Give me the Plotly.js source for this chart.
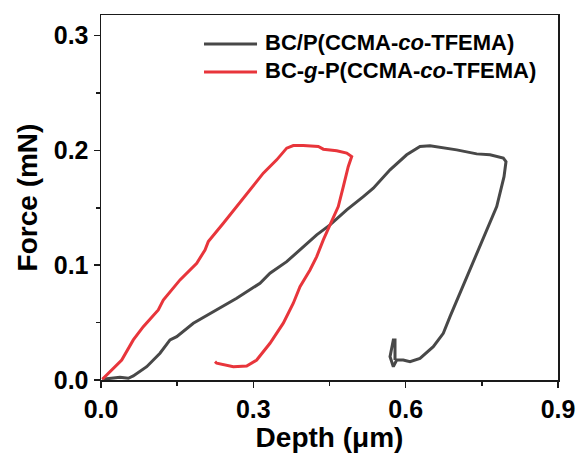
<!DOCTYPE html>
<html><head><meta charset="utf-8">
<script src="https://cdn.plot.ly/plotly-3.0.1.min.js"></script>
<style>html,body{margin:0;padding:0;background:#fff}#chart{width:578px;height:453px}</style>
</head><body><div id="chart"></div>
<script>
// BC/P(CCMA-co-TFEMA)
const depthBCP = [0.0026,0.0374,0.0538,0.0636,0.0900,0.1162,0.1359,0.1491,0.1818,0.2279,0.2672,0.3131,0.3328,0.3657,0.3919,0.4248,0.4510,0.4839,0.5166,0.5363,0.5692,0.6020,0.6282,0.6479,0.7005,0.7399,0.7661,0.7923,0.7976,0.7937,0.7793,0.7596,0.7399,0.7202,0.7005,0.6873,0.6741,0.6544,0.6282,0.6085,0.5953,0.5823,0.5757,0.5692,0.5757,0.5790,0.5790];
const forceBCP = [0.0006,0.0024,0.0015,0.0035,0.0116,0.0233,0.0349,0.0378,0.0494,0.0610,0.0712,0.0843,0.0930,0.1031,0.1133,0.1264,0.1351,0.1482,0.1598,0.1671,0.1831,0.1962,0.2034,0.2040,0.2005,0.1970,0.1962,0.1933,0.1903,0.1772,0.1511,0.1308,0.1105,0.0901,0.0697,0.0552,0.0407,0.0290,0.0189,0.0160,0.0174,0.0174,0.0116,0.0203,0.0349,0.0349,0.0174];
// BC-g-P(CCMA-co-TFEMA)
const depthBCg = [0.0026,0.0112,0.0408,0.0636,0.0833,0.1128,0.1227,0.1556,0.1885,0.2048,0.2113,0.2409,0.2673,0.2869,0.3196,0.3460,0.3657,0.3787,0.3984,0.4280,0.4378,0.4642,0.4839,0.4937,0.4870,0.4772,0.4673,0.4510,0.4378,0.4248,0.4116,0.3919,0.3787,0.3590,0.3328,0.3066,0.2869,0.2606,0.2409,0.2279,0.2245];
const forceBCg = [0.0006,0.0044,0.0174,0.0349,0.0465,0.0610,0.0697,0.0872,0.1017,0.1133,0.1206,0.1366,0.1511,0.1628,0.1802,0.1918,0.2020,0.2043,0.2043,0.2034,0.2011,0.1997,0.1977,0.1947,0.1860,0.1685,0.1511,0.1351,0.1221,0.1075,0.0959,0.0813,0.0669,0.0495,0.0320,0.0174,0.0122,0.0116,0.0131,0.0146,0.0160];
const names = ['BC/P(CCMA-<i>co</i>-TFEMA)', 'BC-<i>g</i>-P(CCMA-<i>co</i>-TFEMA)'];
const colors = ['#484848', '#e8353b'];
const xTicks = [0, 0.3, 0.6, 0.9];
const xTickText = ['0.0', '0.3', '0.6', '0.9'];
const yTicks = [0, 0.1, 0.2, 0.3];
const yTickText = ['0.0', '0.1', '0.2', '0.3'];

const F = 'Arial, "Liberation Sans", sans-serif';
const traces = [
  {x: depthBCP, y: forceBCP, name: names[0], mode: 'lines', line: {color: colors[0], width: 3}, showlegend: false},
  {x: depthBCg, y: forceBCg, name: names[1], mode: 'lines', line: {color: colors[1], width: 3}, showlegend: false}
];
// legend drawn by hand (line sample + label)
const legRows = [0.9205, 0.8438];
const shapes = [], annotations = [];
names.forEach((n, i) => {
  shapes.push({type: 'line', xref: 'paper', yref: 'paper', x0: 0.2254, x1: 0.3414, y0: legRows[i], y1: legRows[i],
               line: {color: colors[i], width: 3}});
  annotations.push({xref: 'paper', yref: 'paper', x: 0.3545, y: legRows[i] + 0.003, xanchor: 'left', yanchor: 'middle',
                    showarrow: false, text: n, font: {family: F, size: 22, color: '#000', weight: 700}});
});
const axBase = {
  showline: true, mirror: true, linecolor: '#1a1a1a', linewidth: 1.5,
  ticks: 'outside', ticklen: 6, tickwidth: 1.5, tickcolor: '#1a1a1a',
  showgrid: false, zeroline: false,
  tickfont: {family: F, size: 25, color: '#000', weight: 700},
  minor: {ticks: 'outside', ticklen: 4, tickwidth: 1.5, tickcolor: '#1a1a1a', showgrid: false}
};
const layout = {
  width: 578, height: 453,
  margin: {l: 101, r: 20, t: 15, b: 73},
  paper_bgcolor: '#fff', plot_bgcolor: '#fff',
  showlegend: false,
  shapes: shapes, annotations: annotations,
  xaxis: Object.assign({}, axBase, {
    range: [0, 0.9], tickvals: xTicks, ticktext: xTickText,
    minor: Object.assign({}, axBase.minor, {dtick: 0.15, tick0: 0}),
    title: {text: 'Depth (μm)', font: {family: F, size: 28, color: '#000', weight: 700}, standoff: 2}
  }),
  yaxis: Object.assign({}, axBase, {
    range: [0, 0.318], tickvals: yTicks, ticktext: yTickText,
    minor: Object.assign({}, axBase.minor, {dtick: 0.05, tick0: 0}),
    title: {text: 'Force (mN)', font: {family: F, size: 28, color: '#000', weight: 700}, standoff: 8}
  })
};
Plotly.newPlot('chart', traces, layout, {displayModeBar: false, staticPlot: true});
</script></body></html>
